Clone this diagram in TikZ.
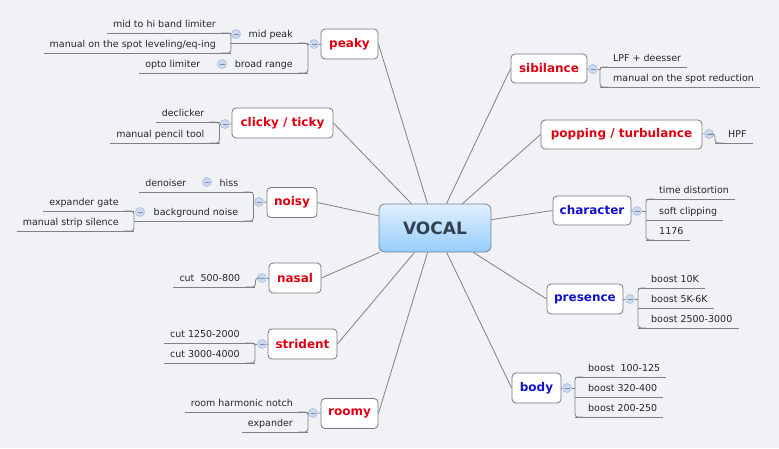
\documentclass[tikz,border=0pt]{standalone}
\usepackage{fontspec}
\setmainfont{DejaVu Sans}
\usepackage{tikz}
\usetikzlibrary{positioning}
\definecolor{canvasbg}{RGB}{241,242,246}
\definecolor{linegray}{RGB}{128,128,134}
\definecolor{boxgray}{RGB}{120,120,126}
\definecolor{topicred}{RGB}{222,0,18}
\definecolor{topicblue}{RGB}{18,18,200}
\definecolor{foldfill}{RGB}{204,217,238}
\definecolor{folddraw}{RGB}{170,190,220}
\definecolor{foldminus}{RGB}{120,142,185}
\definecolor{vocaltop}{RGB}{226,240,255}
\definecolor{vocalbot}{RGB}{150,204,250}
\definecolor{vocalline}{RGB}{112,132,155}
\definecolor{vocaltext}{RGB}{50,64,80}
\newcommand\leaffont{\fontsize{9.5}{11}\selectfont}
\newcommand\topicfont{\fontsize{12}{14}\selectfont\bfseries}

\begin{document}
\begin{tikzpicture}[
    x=1pt, y=-1pt,
    conn/.style={draw=linegray, line width=0.8pt},
    vocal/.style={rectangle, rounded corners=6pt, draw=vocalline, line width=0.8pt, top color=vocaltop, bottom color=vocalbot, minimum width=112, minimum height=48, font=\fontsize{17}{20}\selectfont\bfseries, text=vocaltext},
    topic/.style={rectangle, rounded corners=4pt, draw=boxgray, fill=white, line width=0.8pt, minimum height=30, inner sep=0pt, font=\topicfont},
    redtopic/.style={topic, text=topicred},
    bluetopic/.style={topic, text=topicblue},
    fold/.style={circle, draw=folddraw, fill=foldfill, line width=0.6pt, minimum size=9, inner sep=0pt, path picture={\draw[foldminus, line width=0.9pt] ([xshift=-2.5pt]path picture bounding box.center) -- ([xshift=2.5pt]path picture bounding box.center);}},
    leaf/.style={font=\leaffont, text=black!85, inner sep=0pt, text height=8pt, text depth=5pt, anchor=south east},
    underline/.style 2 args={append after command={([xshift=-#1]\tikzlastnode.south west) edge[conn] ([xshift=#2]\tikzlastnode.south east)}},
    lleaf/.style={leaf, underline={6pt}{15pt}},
    rleaf/.style={leaf, anchor=south west, underline={13pt}{6pt}}
]
    \fill[canvasbg] (0,0) rectangle (779,448);
    \useasboundingbox (0,0) rectangle (779,448);

    \node[vocal] (vocal) at (435,228) {VOCAL};

    % peaky
    \node[redtopic, minimum width=57] (peaky) at (349.5,44) {peaky};
    \node[fold] (cpeaky) at (314,44) {};
    \node[leaf, underline={18pt}{15pt}] (midpeak) at (293,43) {mid peak};
    \node[leaf, underline={20pt}{15pt}] (broad) at (293,73) {broad range};
    \node[fold] (cmid) at (236,34) {};
    \node[fold] (cbroad) at (222,64) {};
    \node[lleaf] (hiband) at (216,33) {mid to hi band limiter};
    \node[lleaf] (leveling) at (216,53) {manual on the spot leveling/eq-ing};
    \node[lleaf] (opto) at (200.5,73) {opto limiter};
    \draw[conn] (peaky) -- (cpeaky);
    \draw[conn] (cpeaky) -- ([xshift=15]midpeak.south east |- cpeaky);
    \draw[conn, rounded corners=3] ([xshift=5]midpeak.south east) -- ([xshift=15]midpeak.south east) |- ([xshift=5]broad.south east);
    \draw[conn] (cmid) -- ([xshift=15]hiband.south east);
    \draw[conn, rounded corners=3] ([xshift=5]hiband.south east) -- ([xshift=15]hiband.south east) |- ([xshift=5]leveling.south east);

    % clicky / ticky
    \node[redtopic, minimum width=101] (clicky) at (282.5,123) {clicky / ticky};
    \node[fold] (cclicky) at (225,124) {};
    \node[lleaf] (declicker) at (204.5,122) {declicker};
    \node[lleaf] (pencil) at (204.5,143) {manual pencil tool};
    \draw[conn] (clicky) -- (cclicky);
    \draw[conn] (cclicky) -- ([xshift=15]declicker.south east |- cclicky);
    \draw[conn, rounded corners=3] ([xshift=5]declicker.south east) -- ([xshift=15]declicker.south east) |- ([xshift=5]pencil.south east);

    % noisy
    \node[redtopic, minimum width=50] (noisy) at (292,202.5) {noisy};
    \node[fold] (cnoisy) at (259,202) {};
    \node[leaf, underline={18.5pt}{15pt}] (hiss) at (238.4,192) {hiss};
    \node[leaf, underline={19.6pt}{15pt}] (background) at (238.4,221) {background noise};
    \node[fold] (chiss) at (207,182) {};
    \node[fold] (cbg) at (140,212) {};
    \node[lleaf] (denoiser) at (186.5,192) {denoiser};
    \node[lleaf] (expgate) at (119,211) {expander gate};
    \node[lleaf] (strip) at (119,231) {manual strip silence};
    \draw[conn] (noisy) -- (cnoisy);
    \draw[conn] (cnoisy) -- ([xshift=15]hiss.south east |- cnoisy);
    \draw[conn, rounded corners=3] ([xshift=5]hiss.south east) -- ([xshift=15]hiss.south east) |- ([xshift=5]background.south east);
    \draw[conn, rounded corners=3] ([xshift=5]expgate.south east) -- ([xshift=15]expgate.south east) |- ([xshift=5]strip.south east);

    % nasal
    \node[redtopic, minimum width=52] (nasal) at (295,278) {nasal};
    \node[fold] (cnasal) at (262,278) {};
    \node[lleaf] (cut500) at (240.4,287) {cut\ \ 500-800};
    \draw[conn] (nasal) -- (cnasal);
    \draw[conn, rounded corners=3] (cnasal) -| ([xshift=15]cut500.south east) -- ([xshift=5]cut500.south east);

    % strident
    \node[redtopic, minimum width=69] (strident) at (302.5,344) {strident};
    \node[fold] (cstrident) at (262,344) {};
    \node[lleaf] (cut1250) at (240,343) {cut 1250-2000};
    \node[lleaf] (cut3000) at (240,363) {cut 3000-4000};
    \draw[conn] (strident) -- (cstrident);
    \draw[conn] (cstrident) -- ([xshift=15]cut1250.south east |- cstrident);
    \draw[conn, rounded corners=3] ([xshift=5]cut1250.south east) -- ([xshift=15]cut1250.south east) |- ([xshift=5]cut3000.south east);

    % roomy
    \node[redtopic, minimum width=57] (roomy) at (349.5,413.5) {roomy};
    \node[fold] (croomy) at (313,413) {};
    \node[lleaf] (notch) at (293,412) {room harmonic notch};
    \node[lleaf] (expander) at (293,432) {expander};
    \draw[conn] (roomy) -- (croomy);
    \draw[conn] (croomy) -- ([xshift=15]notch.south east |- croomy);
    \draw[conn, rounded corners=3] ([xshift=5]notch.south east) -- ([xshift=15]notch.south east) |- ([xshift=5]expander.south east);

    % sibilance
    \node[redtopic, minimum width=76, minimum height=29] (sibilance) at (549,68.5) {sibilance};
    \node[fold] (csib) at (593,69) {};
    \node[rleaf] (lpf) at (613,67) {LPF + deesser};
    \node[rleaf] (spotred) at (613,87) {manual on the spot reduction};
    \draw[conn] (sibilance) -- (csib);
    \draw[conn] (csib) -- ([xshift=-13]lpf.south west |- csib);
    \draw[conn, rounded corners=3] ([xshift=-5]lpf.south west) -- ([xshift=-13]lpf.south west) |- ([xshift=-5]spotred.south west);

    % popping / turbulance
    \node[redtopic, minimum width=161, minimum height=29] (popping) at (621.5,134.5) {popping / turbulance};
    \node[fold] (cpop) at (709,134) {};
    \node[rleaf] (hpf) at (728,143) {HPF};
    \draw[conn] (popping) -- (cpop);
    \draw[conn, rounded corners=3] (cpop) -| ([xshift=-13]hpf.south west) -- ([xshift=-5]hpf.south west);

    % character
    \node[bluetopic, minimum width=78, minimum height=29] (character) at (592,210.5) {character};
    \node[fold] (cchar) at (637,211) {};
    \node[rleaf] (timedist) at (659,199) {time distortion};
    \node[rleaf] (softclip) at (659,220) {soft clipping};
    \node[rleaf] (n1176) at (659,240) {1176};
    \draw[conn] (character) -- (cchar);
    \draw[conn] (cchar) -- ([xshift=-13]timedist.south west |- cchar);
    \draw[conn, rounded corners=3] ([xshift=-5]timedist.south west) -- ([xshift=-13]timedist.south west) |- ([xshift=-5]n1176.south west);

    % presence
    \node[bluetopic, minimum width=76] (presence) at (585,299) {presence};
    \node[fold] (cpres) at (630,299) {};
    \node[rleaf] (b10k) at (651,288) {boost 10K};
    \node[rleaf] (b5k) at (651,308) {boost 5K-6K};
    \node[rleaf] (b2500) at (651,328) {boost 2500-3000};
    \draw[conn] (presence) -- (cpres);
    \draw[conn] (cpres) -- ([xshift=-13]b10k.south west |- cpres);
    \draw[conn, rounded corners=3] ([xshift=-5]b10k.south west) -- ([xshift=-13]b10k.south west) |- ([xshift=-5]b2500.south west);

    % body
    \node[bluetopic, minimum width=49] (body) at (536.5,388) {body};
    \node[fold] (cbody) at (567,388) {};
    \node[rleaf] (b100) at (588,377) {boost\ \ 100-125};
    \node[rleaf] (b320) at (588,397) {boost 320-400};
    \node[rleaf] (b200) at (588,417) {boost 200-250};
    \draw[conn] (body) -- (cbody);
    \draw[conn] (cbody) -- ([xshift=-13]b100.south west |- cbody);
    \draw[conn, rounded corners=3] ([xshift=-5]b100.south west) -- ([xshift=-13]b100.south west) |- ([xshift=-5]b200.south west);

    % branches from the centre
    \draw[conn] (vocal) -- (peaky.east);
    \draw[conn] (vocal) -- (clicky.east);
    \draw[conn] (vocal) -- (noisy.east);
    \draw[conn] (vocal) -- (nasal.east);
    \draw[conn] (vocal) -- (strident.east);
    \draw[conn] (vocal) -- (roomy.east);
    \draw[conn] (vocal) -- (sibilance.west);
    \draw[conn] (vocal) -- (popping.west);
    \draw[conn] (vocal) -- (character.west);
    \draw[conn] (vocal) -- (presence.west);
    \draw[conn] (vocal) -- (body.west);
\end{tikzpicture}
\end{document}
